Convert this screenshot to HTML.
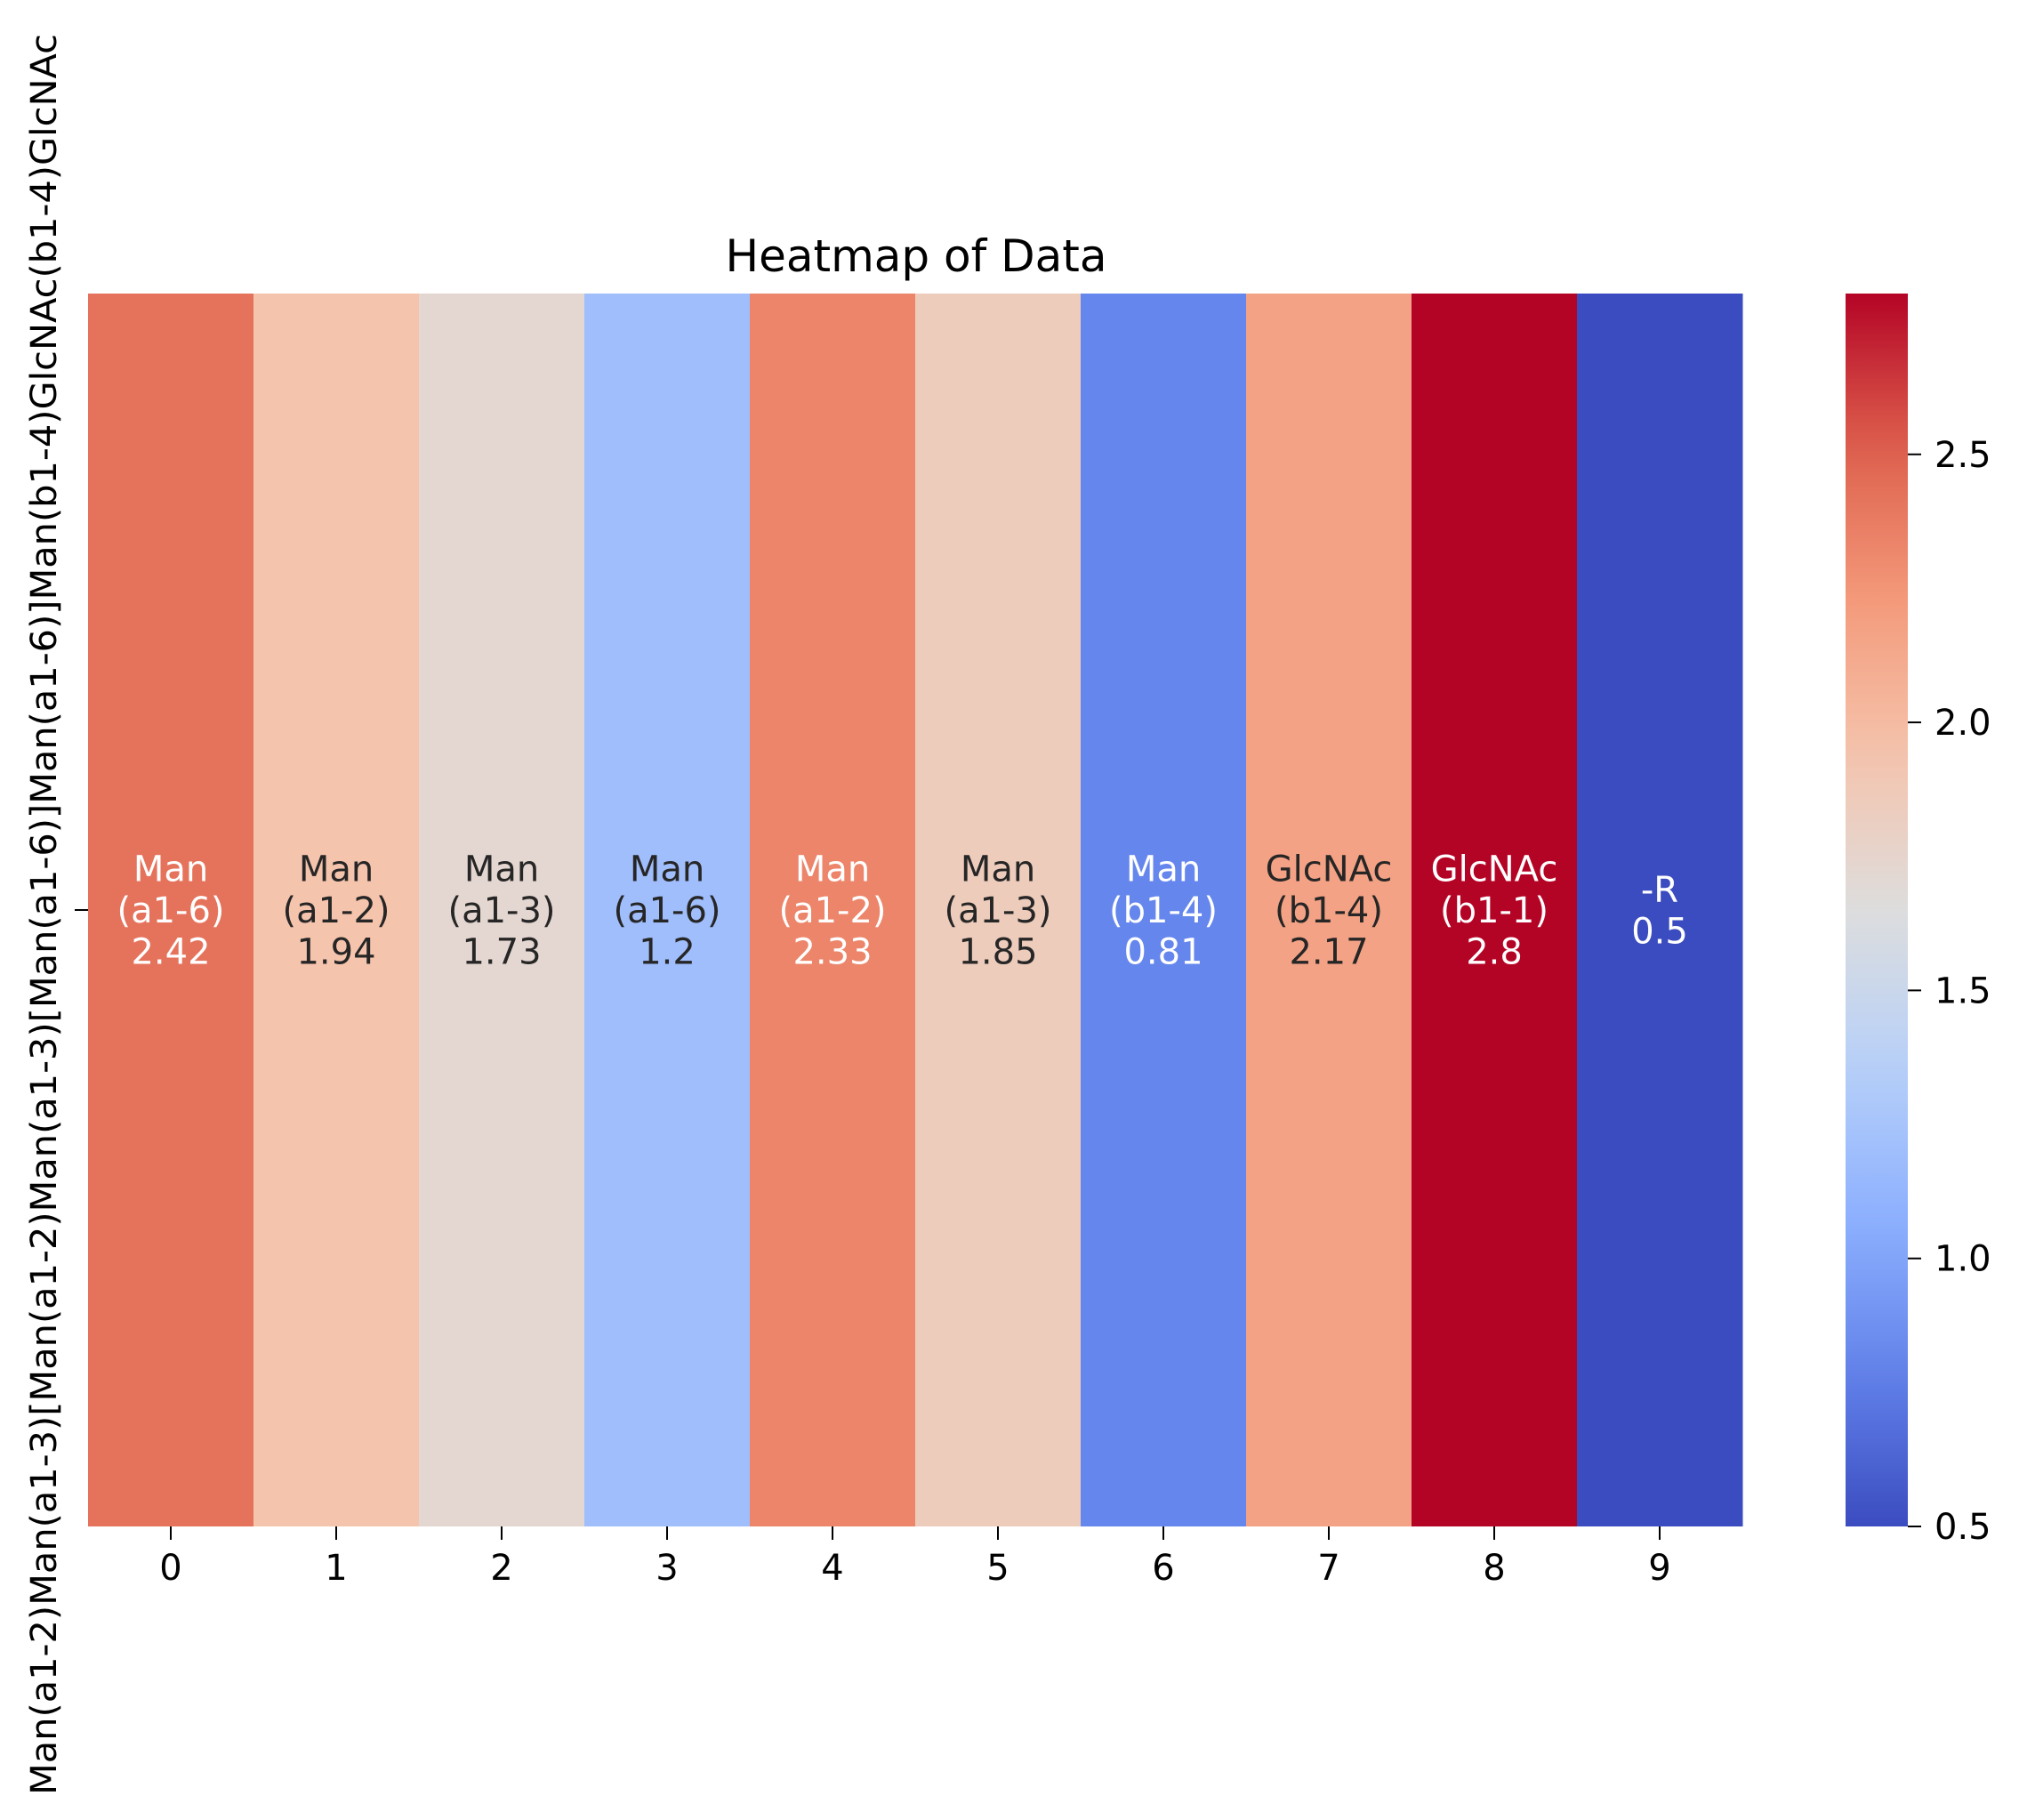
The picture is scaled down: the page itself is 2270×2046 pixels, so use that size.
<!DOCTYPE html>
<html><head><meta charset="utf-8"><style>
html,body{margin:0;padding:0;background:#fff;}
svg{display:block;font-family:"DejaVu Sans","Liberation Sans",sans-serif;}
</style></head><body>
<svg id="chart" width="2270" height="2046" viewBox="0 0 2270 2046" xmlns="http://www.w3.org/2000/svg">
<defs><linearGradient id="cbgrad" x1="0" y1="1" x2="0" y2="0"></linearGradient></defs>
<text x="1030" y="305" font-size="50" text-anchor="middle" fill="#000">Heatmap of Data</text>
<g id="cells"></g>
<g id="xaxis"></g>
<g id="yaxis">
<line x1="99" y1="1023" x2="84" y2="1023" stroke="#000" stroke-width="2"/>
<text transform="translate(63,1028) rotate(-90)" font-size="40" text-anchor="middle" textLength="1980" lengthAdjust="spacingAndGlyphs">Man(a1-2)Man(a1-3)[Man(a1-2)Man(a1-3)[Man(a1-6)]Man(a1-6)]Man(b1-4)GlcNAc(b1-4)GlcNAc</text>
</g>
<g id="colorbar">
<rect x="2075" y="330" width="70" height="1386" fill="url(#cbgrad)"/>
</g>
</svg>
<script>
const values = [2.42, 1.94, 1.73, 1.2, 2.33, 1.85, 0.81, 2.17, 2.8, 0.5];
const names = ["Man","Man","Man","Man","Man","Man","Man","GlcNAc","GlcNAc","-R"];
const links = ["(a1-6)","(a1-2)","(a1-3)","(a1-6)","(a1-2)","(a1-3)","(b1-4)","(b1-4)","(b1-1)",""];
const xTicks = ["0","1","2","3","4","5","6","7","8","9"];
const cbTicks = [0.5, 1.0, 1.5, 2.0, 2.5];
const vmin = 0.5, vmax = 2.8;

const NS = "http://www.w3.org/2000/svg";
const X0 = 99, X1 = 1959, Y0 = 330, Y1 = 1716;
const CB_X = 2075, CB_W = 70;
const cw = (X1 - X0) / values.length;
const xPos = i => X0 + i * cw;
const cbY = v => Y1 - (v - vmin) / (vmax - vmin) * (Y1 - Y0);

const stops = [[59,76,192],[98,130,234],[141,176,254],[184,208,249],[221,221,221],[245,196,173],[244,154,123],[222,96,77],[180,4,38]];
function cmap(t){
  t = Math.max(0, Math.min(1, t));
  const p = t * (stops.length - 1), i = Math.min(Math.floor(p), stops.length - 2), f = p - i;
  return stops[i].map((c, k) => Math.round(c + (stops[i+1][k] - c) * f));
}
const rgb = c => `rgb(${c[0]},${c[1]},${c[2]})`;
function lum(c){
  const l = c.map(v => { v /= 255; return v <= 0.03928 ? v / 12.92 : Math.pow((v + 0.055) / 1.055, 2.4); });
  return 0.2126 * l[0] + 0.7152 * l[1] + 0.0722 * l[2];
}
function mk(tag, attrs, parent){
  const e = document.createElementNS(NS, tag);
  for (const k in attrs) e.setAttribute(k, attrs[k]);
  parent.appendChild(e);
  return e;
}

const cells = document.getElementById("cells");
values.forEach((v, i) => {
  const c = cmap((v - vmin) / (vmax - vmin));
  const r = mk("rect", {x: xPos(i), y: Y0, width: cw + 0.5, height: Y1 - Y0, fill: rgb(c)}, cells);
  
  
  const col = lum(c) > 0.408 ? "#262626" : "#ffffff";
  const lines = links[i] ? [names[i], links[i], String(v)] : [names[i], String(v)];
  const lh = 46.5;
  const cy = (Y0 + Y1) / 2;
  const t = mk("text", {x: xPos(i) + cw / 2, "font-size": 40, "text-anchor": "middle", fill: col}, cells);
  
  
  const firstBase = cy - (lines.length - 1) * lh / 2 + 14;
  lines.forEach((s, k) => {
    const ts = mk("tspan", {x: xPos(i) + cw / 2, y: firstBase + k * lh}, t);
    ts.textContent = s;
  });
});

const xaxis = document.getElementById("xaxis");
xTicks.forEach((lab, i) => {
  const x = xPos(i) + cw / 2;
  const l = mk("line", {x1: x, y1: Y1, x2: x, y2: Y1 + 15, stroke: "#000", "stroke-width": 2}, xaxis);
  
  
  const t = mk("text", {x: x, y: 1776, "font-size": 40, "text-anchor": "middle", fill: "#000"}, xaxis);
  
  
  t.textContent = lab;
});

const grad = document.getElementById("cbgrad");
for (let k = 0; k <= 20; k++) {
  mk("stop", {offset: (k / 20), "stop-color": rgb(cmap(k / 20))}, grad);
}
const cb = document.getElementById("colorbar");
cbTicks.forEach(v => {
  const y = cbY(v);
  const l = mk("line", {x1: CB_X + CB_W, y1: y, x2: CB_X + CB_W + 15, y2: y, stroke: "#000", "stroke-width": 2}, cb);
  
  
  const t = mk("text", {x: 2175, y: y + 14, "font-size": 40, fill: "#000"}, cb);
  
  
  t.textContent = v.toFixed(1);
});
</script>
</body></html>
